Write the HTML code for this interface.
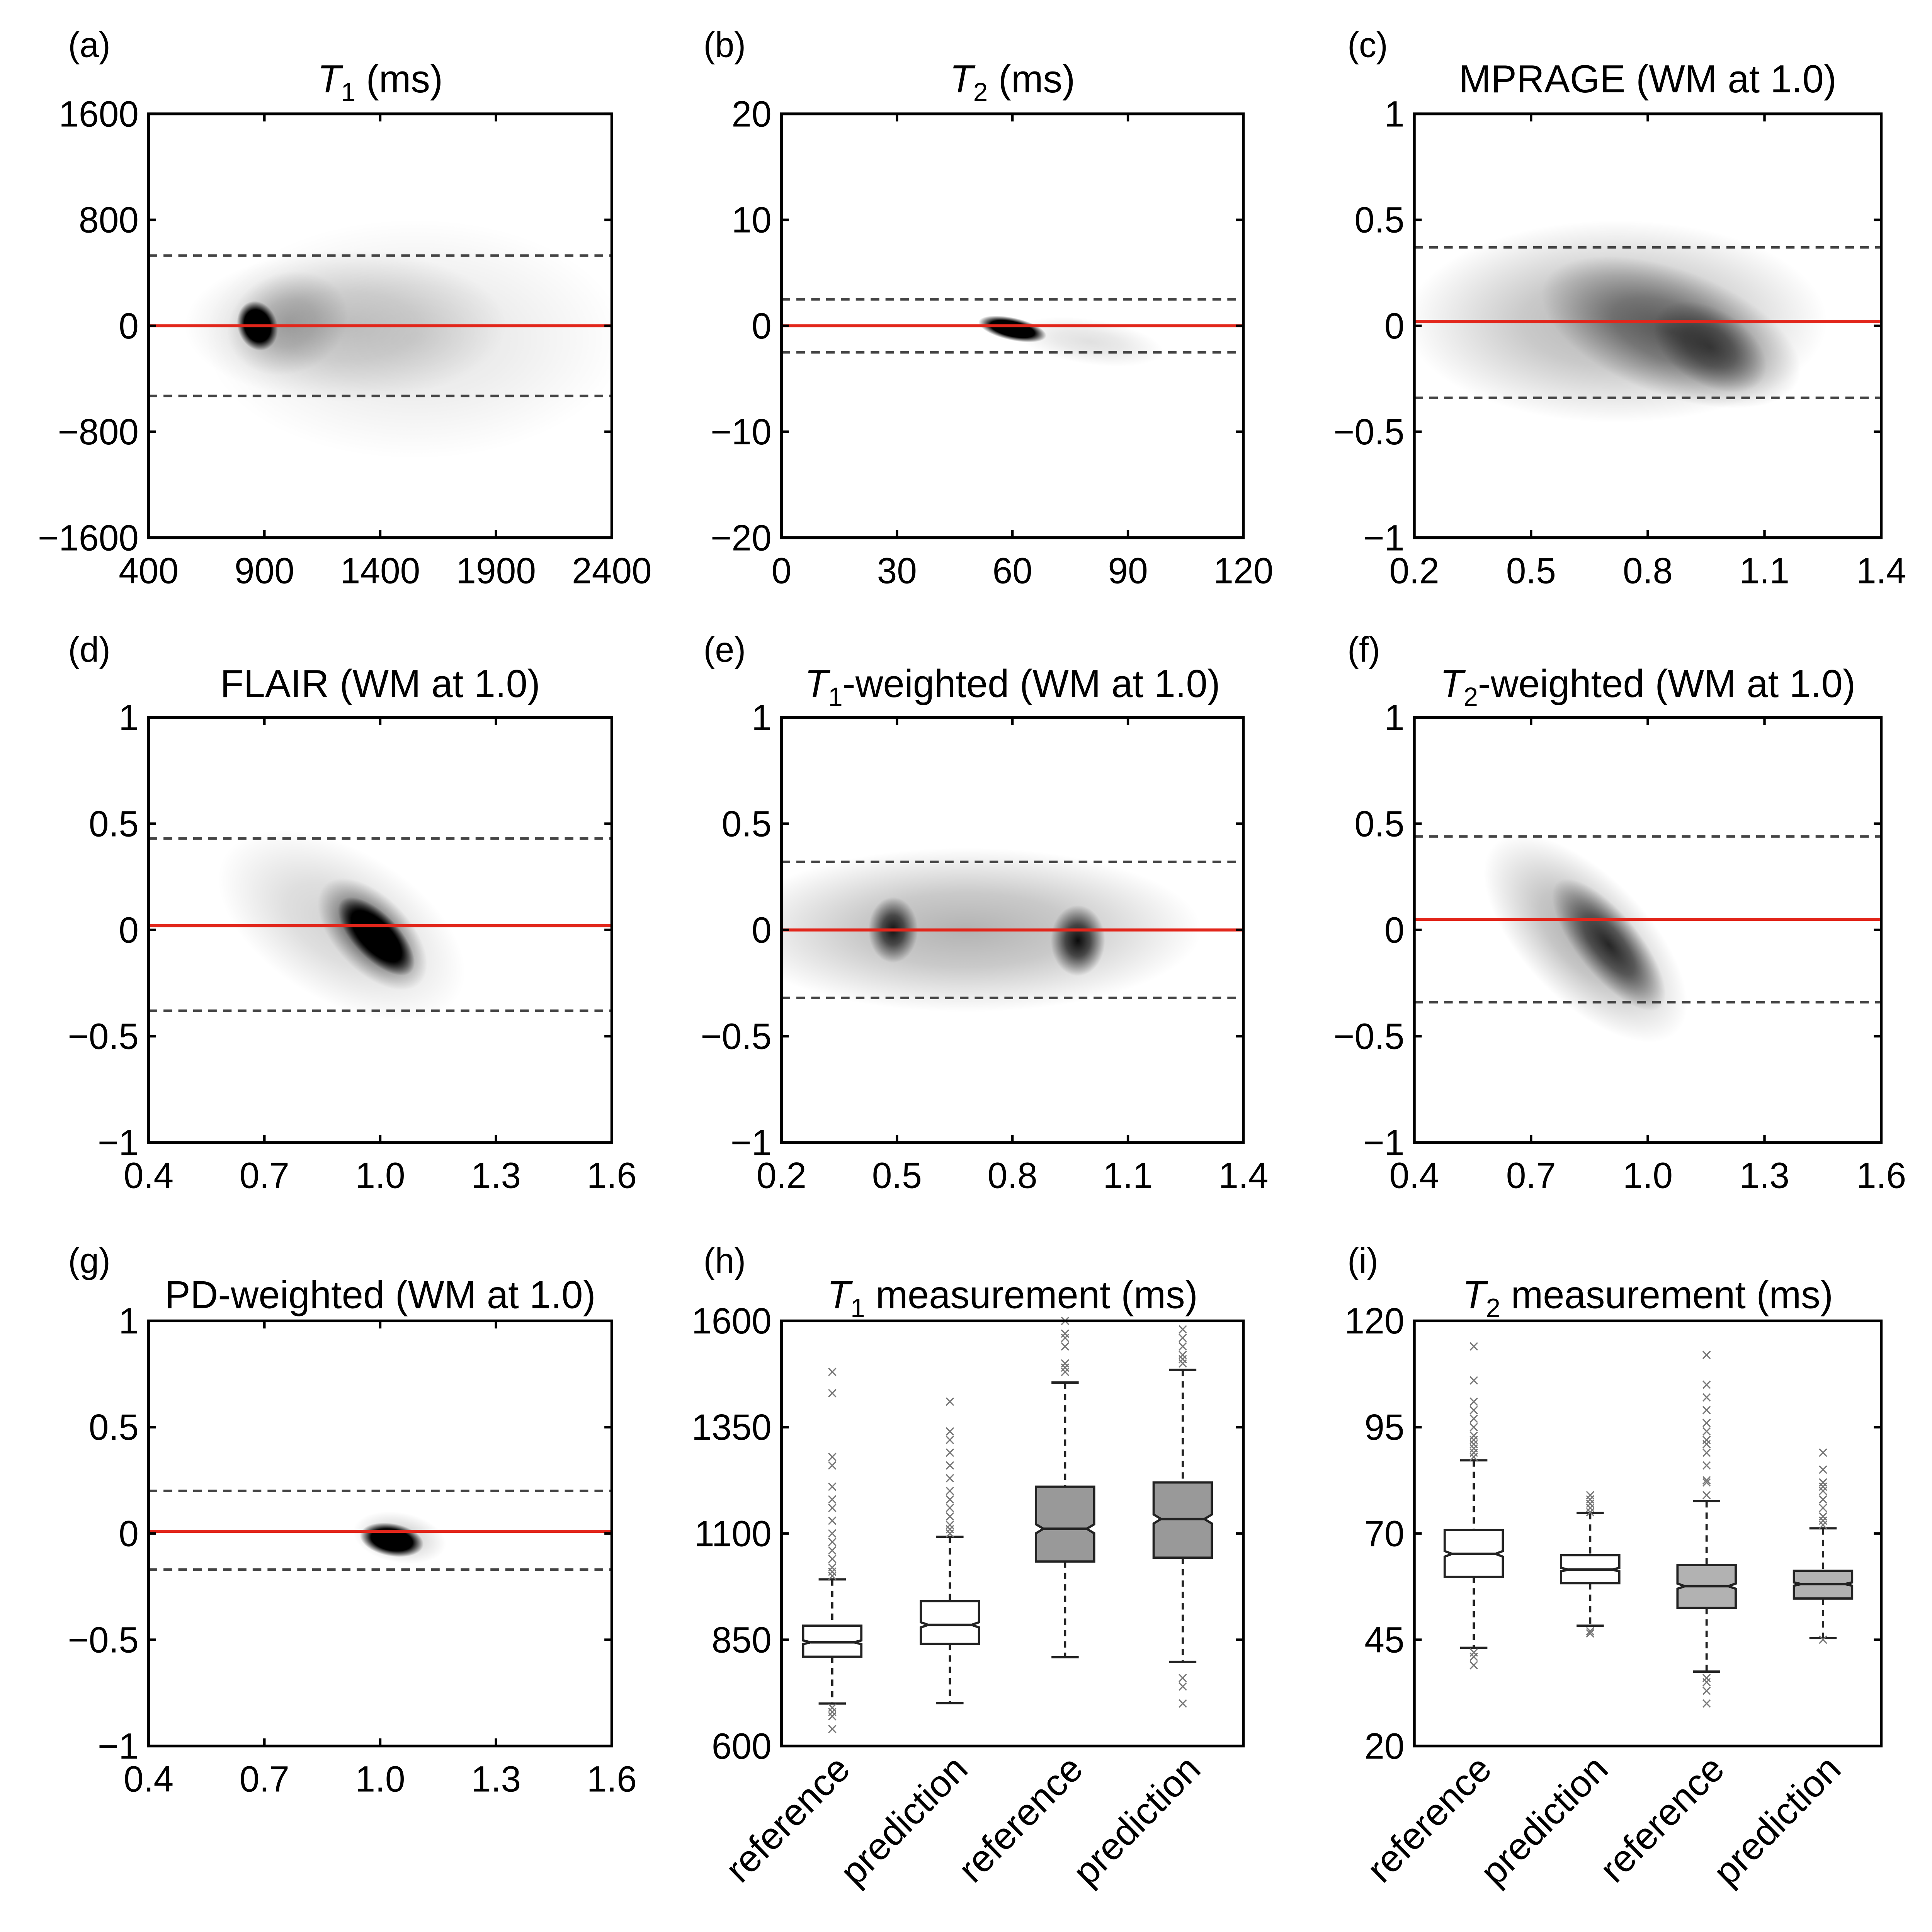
<!DOCTYPE html>
<html><head><meta charset="utf-8"><style>
html,body{margin:0;padding:0;background:#fff;overflow:hidden;width:100vw;height:100vh;}
svg{display:block;width:100vw;height:100vh;}
text{font-family:"Liberation Sans","DejaVu Sans",sans-serif;fill:#000;}
</style></head><body>
<svg id="fig" xmlns="http://www.w3.org/2000/svg" viewBox="0 0 1560 1527" preserveAspectRatio="none">
<defs>
<radialGradient id="soft"><stop offset="0" stop-color="#000" stop-opacity="1"/><stop offset="0.45" stop-color="#000" stop-opacity="0.7"/><stop offset="1" stop-color="#000" stop-opacity="0"/></radialGradient>
<radialGradient id="core"><stop offset="0" stop-color="#000" stop-opacity="1"/><stop offset="0.65" stop-color="#000" stop-opacity="1"/><stop offset="1" stop-color="#000" stop-opacity="0"/></radialGradient>
</defs>
</svg>
<script>
// ---------- data ----------
const scatterIds = ['a','b','c','d','e','f','g'];
const scatterTitles = ['T|1| (ms)','T|2| (ms)','MPRAGE (WM at 1.0)','FLAIR (WM at 1.0)','T|1|-weighted (WM at 1.0)','T|2|-weighted (WM at 1.0)','PD-weighted (WM at 1.0)'];
const xDomains = [[400,2400],[0,120],[0.2,1.4],[0.4,1.6],[0.2,1.4],[0.4,1.6],[0.4,1.6]];
const yDomains = [[-1600,1600],[-20,20],[-1,1],[-1,1],[-1,1],[-1,1],[-1,1]];
const xTicks = [[400,900,1400,1900,2400],[0,30,60,90,120],[0.2,0.5,0.8,1.1,1.4],[0.4,0.7,1.0,1.3,1.6],[0.2,0.5,0.8,1.1,1.4],[0.4,0.7,1.0,1.3,1.6],[0.4,0.7,1.0,1.3,1.6]];
const xTickLabels = [['400','900','1400','1900','2400'],['0','30','60','90','120'],['0.2','0.5','0.8','1.1','1.4'],['0.4','0.7','1.0','1.3','1.6'],['0.2','0.5','0.8','1.1','1.4'],['0.4','0.7','1.0','1.3','1.6'],['0.4','0.7','1.0','1.3','1.6']];
const yTicks = [[-1600,-800,0,800,1600],[-20,-10,0,10,20],[-1,-0.5,0,0.5,1],[-1,-0.5,0,0.5,1],[-1,-0.5,0,0.5,1],[-1,-0.5,0,0.5,1],[-1,-0.5,0,0.5,1]];
const yTickLabels = [['\u22121600','\u2212800','0','800','1600'],['\u221220','\u221210','0','10','20'],['\u22121','\u22120.5','0','0.5','1'],['\u22121','\u22120.5','0','0.5','1'],['\u22121','\u22120.5','0','0.5','1'],['\u22121','\u22120.5','0','0.5','1'],['\u22121','\u22120.5','0','0.5','1']];
const meanDiff = [0, 0, 0.02, 0.02, 0, 0.05, 0.01];
const upperLoA = [530, 2.5, 0.37, 0.43, 0.32, 0.44, 0.2];
const lowerLoA = [-530, -2.5, -0.34, -0.38, -0.32, -0.34, -0.17];
// density blobs: [x, y, rx(px), ry(px), angle, opacity, kind]
const densityBlobs = [
 [[1550,-100,170,95,0,0.1,'soft'],[1250,0,130,60,0,0.2,'soft'],[1000,20,50,40,-20,0.25,'soft'],[870,0,16,20,-20,1,'core']],
 [[80,-1.5,60,18,8,0.12,'soft'],[60,-0.3,28,9,12,1,'core']],
 [[0.72,0.02,170,80,0,0.3,'soft'],[0.86,-0.03,110,50,20,0.55,'soft'],[0.96,-0.1,50,30,30,0.55,'soft']],
 [[0.9,0.02,110,60,30,0.18,'soft'],[0.98,-0.02,55,30,45,0.7,'soft'],[0.99,-0.03,40,18,45,1,'core']],
 [[0.68,0.0,190,65,0,0.3,'soft'],[0.49,0.0,20,26,0,0.9,'soft'],[0.97,-0.05,22,28,0,0.95,'soft']],
 [[0.84,-0.04,105,50,45,0.32,'soft'],[0.9,-0.07,65,25,50,0.8,'soft']],
 [[1.05,-0.02,38,20,10,0.2,'soft'],[1.03,-0.03,26,13,10,1,'core']]
];
// boxplots
const boxTitles = ['T|1| measurement (ms)','T|2| measurement (ms)'];
const boxCategories = ['reference','prediction','reference','prediction'];
const boxYDomains = [[600,1600],[20,120]];
const boxYTicks = [[600,850,1100,1350,1600],[20,45,70,95,120]];
const boxYTickLabels = [['600','850','1100','1350','1600'],['20','45','70','95','120']];
const hQ1 = [810,840,1034,1043], hMed = [844,885,1111,1134], hQ3 = [883,941,1210,1220], hLo = [700,701,809,798], hHi = [992,1092,1455,1485];
const iQ1 = [59.8,58.3,52.5,54.7], iMed = [65.2,61.5,57.6,58.1], iQ3 = [70.8,64.9,62.6,61.2], iLo = [43.1,48.3,37.5,45.4], iHi = [87.2,74.8,77.6,71.2];
const hOutliers = [[1000,1010,1020,1040,1060,1080,1100,1130,1160,1180,1210,1260,1280,1430,1480,690,680,670,640],[1100,1110,1120,1140,1160,1180,1200,1230,1260,1290,1320,1340,1410],[1480,1490,1500,1540,1560,1570,1600],[1500,1510,1520,1540,1560,1580,760,740,700]];
const iOutliers = [[88,89,90,91,92,93,95,97,99,101,106,114,42,41,39],[75,76,77,78,79,47,46.5],[79,82,82.5,86,89,91,92,94,96,99,102,105,112,36,35,33,30],[72,73,74,76,78,80,81,82,85,89,45]];
const boxFill = [['#fff','#fff','#999','#999'],['#fff','#fff','#b2b2b2','#b2b2b2']];

// ---------- layout ----------
const colX = [[120,494],[631,1004],[1142,1519]];
const rowY = [[90,425],[567,903],[1044,1380]];
const panelLabelX = [55,568,1088];
const panelLabelY = [45,523,1006];
const boxCenters = [[672,767,860,955],[1190,1284,1378,1472]];
const NS='http://www.w3.org/2000/svg';
const svg=document.getElementById('fig');
function mk(tag,attrs,parent){const e=document.createElementNS(NS,tag);for(const k in attrs)e.setAttribute(k,attrs[k]);(parent||svg).appendChild(e);return e;}
function title(txt,cx,y,parent){
  const t=mk('text',{x:cx,y:y,'text-anchor':'middle','font-size':31},parent);
  
  
  const parts=txt.split('|');
  if(parts.length===1){t.textContent=txt;return;}
  const a=mk('tspan',{'font-style':'italic'},t);a.textContent='T';
  const b=mk('tspan',{'font-size':21,dy:7},t);b.textContent=parts[1];
  const c=mk('tspan',{dy:-7},t);c.textContent=parts[2];
}
function frame(g,x0,x1,y0,y1,xt,xtl,yt,ytl,sx,sy){
  for(let i=0;i<xt.length;i++){
    const x=sx(xt[i]);
    mk('line',{x1:x,x2:x,y1:y1,y2:y1-6,stroke:'#000','stroke-width':2},g);
    mk('line',{x1:x,x2:x,y1:y0,y2:y0+6,stroke:'#000','stroke-width':2},g);
    if(xtl){const t=mk('text',{x:x,y:y1+36,'text-anchor':'middle','font-size':29},g);
    
    
    t.textContent=xtl[i];}
  }
  for(let i=0;i<yt.length;i++){
    const y=sy(yt[i]);
    mk('line',{x1:x0,x2:x0+6,y1:y,y2:y,stroke:'#000','stroke-width':2},g);
    mk('line',{x1:x1,x2:x1-6,y1:y,y2:y,stroke:'#000','stroke-width':2},g);
    const t=mk('text',{x:x0-8,y:y+10,'text-anchor':'end','font-size':29},g);
    
    
    t.textContent=ytl[i];
  }
  const r=mk('rect',{x:x0,y:y0,width:x1-x0,height:y1-y0,fill:'none',stroke:'#000','stroke-width':2.2},g);
  
  
}
// ---------- scatter panels ----------
scatterIds.forEach((id,k)=>{
  const col=k%3,row=Math.floor(k/3);
  const [x0,x1]=colX[col],[y0,y1]=rowY[row];
  const xd=xDomains[k],yd=yDomains[k];
  const sx=v=>x0+(v-xd[0])/(xd[1]-xd[0])*(x1-x0);
  const sy=v=>y1-(v-yd[0])/(yd[1]-yd[0])*(y1-y0);
  const g=mk('g',{});
  
  
  const lab=mk('text',{x:panelLabelX[col],y:panelLabelY[row],'font-size':28},g);
  
  
  lab.textContent='('+id+')';
  title(scatterTitles[k],(x0+x1)/2,panelLabelY[row]+28,g);
  const cid='clip'+id;
  const cp=mk('clipPath',{id:cid},g);mk('rect',{x:x0,y:y0,width:x1-x0,height:y1-y0},cp);
  const dg=mk('g',{'clip-path':'url(#'+cid+')'},g);
  
  
  densityBlobs[k].forEach(b=>{
    const cx=sx(b[0]),cy=sy(b[1]);
    const e=mk('ellipse',{cx:cx,cy:cy,rx:b[2],ry:b[3],fill:'url(#'+b[6]+')',opacity:b[5],transform:'rotate('+b[4]+' '+cx+' '+cy+')'},dg);
    
    
  });
  [upperLoA[k],lowerLoA[k]].forEach((v,j)=>{
    const l=mk('line',{x1:x0,x2:x1,y1:sy(v),y2:sy(v),stroke:'#444','stroke-width':2,'stroke-dasharray':'7,5'},g);
    
    
  });
  const m=mk('line',{x1:x0,x2:x1,y1:sy(meanDiff[k]),y2:sy(meanDiff[k]),stroke:'#e2261b','stroke-width':2.4},g);
  
  
  frame(g,x0,x1,y0,y1,xTicks[k],xTickLabels[k],yTicks[k],yTickLabels[k],sx,sy);
});
// ---------- box panels ----------
const boxStats=[[hQ1,hMed,hQ3,hLo,hHi,hOutliers],[iQ1,iMed,iQ3,iLo,iHi,iOutliers]];
['h','i'].forEach((id,k)=>{
  const col=k+1,row=2;
  const [x0,x1]=colX[col],[y0,y1]=rowY[row];
  const yd=boxYDomains[k];
  const sy=v=>y1-(v-yd[0])/(yd[1]-yd[0])*(y1-y0);
  const g=mk('g',{});
  
  
  const lab=mk('text',{x:panelLabelX[col],y:panelLabelY[row],'font-size':28},g);
  
  
  lab.textContent='('+id+')';
  title(boxTitles[k],(x0+x1)/2,panelLabelY[row]+28,g);
  const [q1,md,q3,lo,hi,out]=boxStats[k];
  boxCategories.forEach((cat,j)=>{
    const cx=boxCenters[k][j],w=23.5,n=6,nh=(q3[j]-q1[j])*0.06;
    const bg=mk('g',{},g);
    
    
    mk('line',{x1:cx,x2:cx,y1:sy(hi[j]),y2:sy(q3[j]),stroke:'#222','stroke-width':1.8,'stroke-dasharray':'5,4'},bg);
    mk('line',{x1:cx,x2:cx,y1:sy(q1[j]),y2:sy(lo[j]),stroke:'#222','stroke-width':1.8,'stroke-dasharray':'5,4'},bg);
    mk('line',{x1:cx-11,x2:cx+11,y1:sy(hi[j]),y2:sy(hi[j]),stroke:'#222','stroke-width':1.8},bg);
    mk('line',{x1:cx-11,x2:cx+11,y1:sy(lo[j]),y2:sy(lo[j]),stroke:'#222','stroke-width':1.8},bg);
    const ya=sy(q3[j]),yb=sy(md[j]+nh),yc=sy(md[j]),yd2=sy(md[j]-nh),ye=sy(q1[j]);
    mk('path',{d:`M${cx-w},${ya}H${cx+w}V${yb}L${cx+w-n},${yc}L${cx+w},${yd2}V${ye}H${cx-w}V${yd2}L${cx-w+n},${yc}L${cx-w},${yb}Z`,fill:boxFill[k][j],stroke:'#222','stroke-width':1.8},bg);
    mk('line',{x1:cx-w+n,x2:cx+w-n,y1:yc,y2:yc,stroke:'#222','stroke-width':2},bg);
    out[j].forEach(v=>{
      const y=sy(v);
      const o=mk('path',{d:`M${cx-3},${y-3}L${cx+3},${y+3}M${cx-3},${y+3}L${cx+3},${y-3}`,stroke:'#777','stroke-width':1},bg);
      
      
    });
    const t=mk('text',{x:cx+16,y:y1+20,'text-anchor':'end','font-size':30,transform:`rotate(-45 ${cx+16} ${y1+20})`},g);
    
    
    t.textContent=cat;
  });
  frame(g,x0,x1,y0,y1,[],null,boxYTicks[k],boxYTickLabels[k],v=>0,sy);
});
</script>
</body></html>
